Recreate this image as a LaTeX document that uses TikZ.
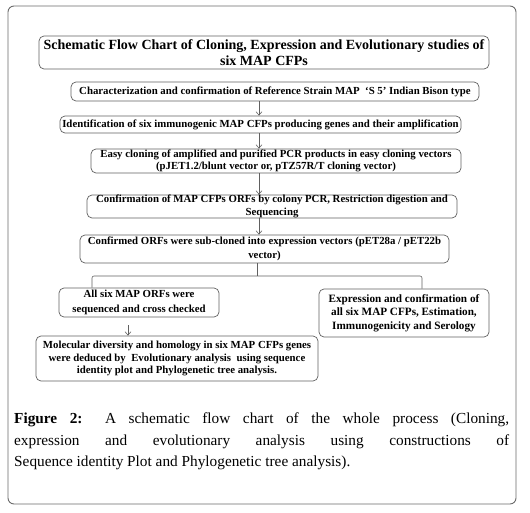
\documentclass[tikz,border=0pt]{standalone}
\usepackage{fontspec}
\setmainfont{Liberation Serif}
\usetikzlibrary{arrows.meta,calc}
\definecolor{frame}{HTML}{6A6A6A}
\definecolor{boxline}{HTML}{606060}
\tikzset{
  flowbox/.style={draw=boxline, line width=0.7pt, rounded corners=5pt, align=center,
    inner sep=0pt, font=\fontsize{10.8}{12}\selectfont\bfseries},
  conn/.style={draw=boxline, line width=0.6pt},
  arr/.style={conn, -{Straight Barb[length=3.5pt,width=6pt,line width=0.6pt]}},
}
\begin{document}
\begin{tikzpicture}[x=1pt,y=-1pt]
\useasboundingbox (0,0) rectangle (530,513);
\draw[frame, line width=0.9pt, rounded corners=6pt] (8,6) rectangle (516,504);

\node[flowbox, minimum width=450pt, minimum height=33pt, font=\fontsize{14}{16}\selectfont\bfseries] (title) at (264,52.5)
  {Schematic Flow Chart of Cloning, Expression and Evolutionary studies of\\six MAP CFPs};
\node[flowbox, minimum width=408pt, minimum height=19pt] (b1) at (275,91.5)
  {Characterization and confirmation of Reference Strain MAP\ \ ‘S 5’ Indian Bison type};
\node[flowbox, minimum width=401pt, minimum height=17pt] (b2) at (260.5,124.5)
  {Identification of six immunogenic MAP CFPs producing genes and their amplification};
\node[flowbox, minimum width=370pt, minimum height=24pt, font=\fontsize{10.8}{11.5}\selectfont\bfseries] (b3) at (276,161)
  {Easy cloning of amplified and purified PCR products in easy cloning vectors\\(pJET1.2/blunt vector\ or, pTZ57R/T cloning vector)};
\node[flowbox, minimum width=370pt, minimum height=23pt, font=\fontsize{10.8}{13}\selectfont\bfseries] (b4) at (272,206.5)
  {Confirmation of MAP CFPs ORFs by colony PCR, Restriction\ digestion and\\Sequencing};
\node[flowbox, minimum width=369pt, minimum height=28pt, font=\fontsize{10.8}{14}\selectfont\bfseries] (b5) at (264.5,249)
  {Confirmed ORFs were sub-cloned into expression vectors (pET28a / pET22b\\vector)};
\node[flowbox, minimum width=160pt, minimum height=29pt, font=\fontsize{10.8}{15}\selectfont\bfseries] (b6) at (139,302.5)
  {All six MAP ORFs were\\sequenced and cross checked};
\node[flowbox, minimum width=170pt, minimum height=48pt, font=\fontsize{11.2}{13.5}\selectfont\bfseries] (b7) at (404,313)
  {Expression and confirmation of\\all six MAP CFPs, Estimation,\\Immunogenicity and Serology};
\node[flowbox, minimum width=282pt, minimum height=45pt, font=\fontsize{10.8}{12.3}\selectfont\bfseries] (b8) at (177,358.5)
  {Molecular diversity and homology in six MAP CFPs genes\\were deduced by\ \ Evolutionary analysis\ \ using sequence\\identity plot and Phylogenetic tree analysis.};

\coordinate (ax) at (259,0);
\coordinate (bx) at (257,0);
\coordinate (brk) at (257,276);
\coordinate (lx) at (92,0);
\coordinate (rx) at (422,0);
\coordinate (dx) at (128,0);

\draw[arr] (b1.south -| ax) -- (b2.north -| ax);
\draw[arr] (b2.south -| ax) -- (b3.north -| ax);
\draw[arr] (b3.south -| ax) -- (b4.north -| ax);
\draw[arr] (b4.south -| ax) -- (b5.north -| ax);
\draw[conn] (b5.south -| bx) -- (brk);
\draw[conn, rounded corners=2pt] (b6.north -| lx) |- (brk) -| (b7.north -| rx);
\draw[arr, shorten <=8pt] (b6.south -| dx) -- (b8.north -| dx);

\node[anchor=north west, inner sep=0pt, text width=495pt, align=justify,
      font=\fontsize{15.3}{21.5}\selectfont] (cap) at (14,413)
  {\textbf{Figure 2:} A schematic flow chart of the whole process (Cloning,\linebreak
   expression and evolutionary analysis using constructions of\linebreak
   Sequence identity Plot and Phylogenetic tree analysis).};
\end{tikzpicture}
\end{document}
